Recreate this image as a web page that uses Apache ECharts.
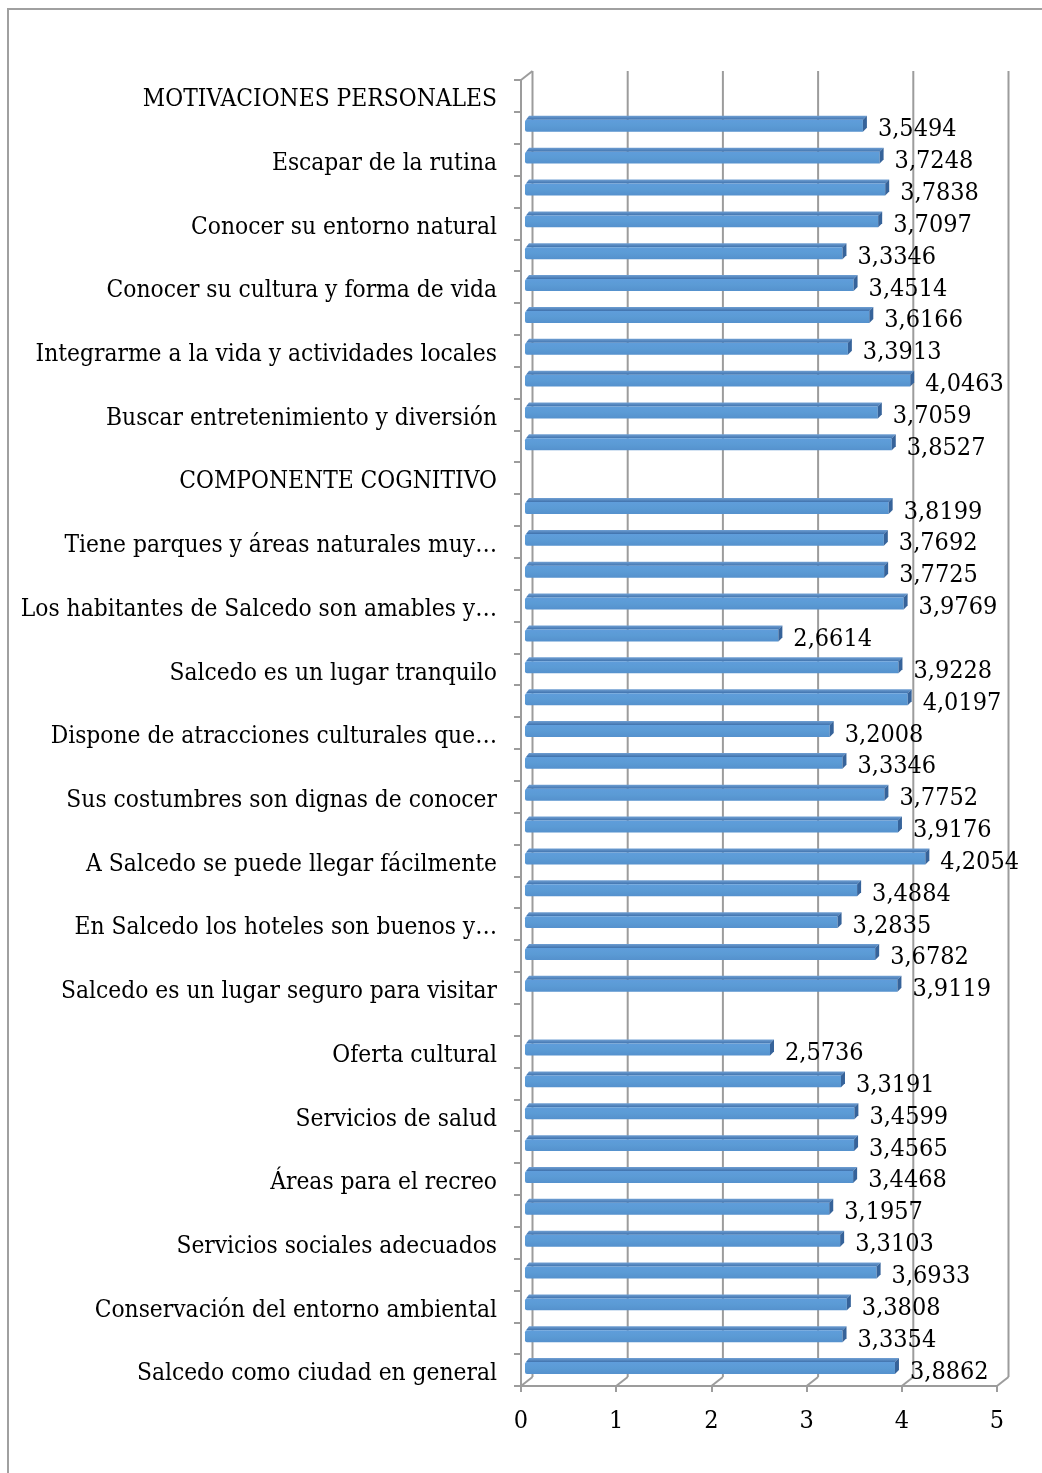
<!DOCTYPE html>
<html>
<head>
<meta charset="utf-8">
<script src="https://cdn.jsdelivr.net/npm/echarts@6/dist/echarts.min.js"></script>
<style>
  html, body { margin: 0; padding: 0; background: #fff; }
  #chart { width: 1042px; height: 1473px; }
</style>
</head>
<body>
<div id="chart"></div>
<script>
// Category rows, top to bottom (unlabeled rows are real items whose names the axis skips)
const categories = [
  'MOTIVACIONES PERSONALES', '', 'Escapar de la rutina', '', 'Conocer su entorno natural', '',
  'Conocer su cultura y forma de vida', '', 'Integrarme a la vida y actividades locales', '',
  'Buscar entretenimiento y diversión', '', 'COMPONENTE COGNITIVO', '',
  'Tiene parques y áreas naturales muy…', '', 'Los habitantes de Salcedo son amables y…', '',
  'Salcedo es un lugar tranquilo', '', 'Dispone de atracciones culturales que…', '',
  'Sus costumbres son dignas de conocer', '', 'A Salcedo se puede llegar fácilmente', '',
  'En Salcedo los hoteles son buenos y…', '', 'Salcedo es un lugar seguro para visitar', '',
  'Oferta cultural', '', 'Servicios de salud', '', 'Áreas para el recreo', '',
  'Servicios sociales adecuados', '', 'Conservación del entorno ambiental', '',
  'Salcedo como ciudad en general'
];

// Mean score per row (null = heading / spacer row without a bar)
const scores = [
  null, 3.5494, 3.7248, 3.7838, 3.7097, 3.3346, 3.4514, 3.6166, 3.3913, 4.0463,
  3.7059, 3.8527, null, 3.8199, 3.7692, 3.7725, 3.9769, 2.6614, 3.9228, 4.0197,
  3.2008, 3.3346, 3.7752, 3.9176, 4.2054, 3.4884, 3.2835, 3.6782, 3.9119, null,
  2.5736, 3.3191, 3.4599, 3.4565, 3.4468, 3.1957, 3.3103, 3.6933, 3.3808, 3.3354,
  3.8862
];

// Value axis ticks
const xTicks = [0, 1, 2, 3, 4, 5];

const FONT = "'DejaVu Serif Condensed', 'DejaVu Serif', serif";
const FS_CAT = 24.3;
const FS_VAL = 25;
const GRAY = '#9c9c9c';
// Depth of the 3-D box (back wall offset)
const DX = 11.5, DY = -9;

const barData = [];
scores.forEach((v, i) => { if (v !== null) barData.push([v, i]); });

const chart = echarts.init(document.getElementById('chart'), null, { renderer: 'canvas' });

chart.setOption({
  animation: false,
  backgroundColor: '#fff',
  graphic: [{
    type: 'rect',
    shape: { x: 8, y: 9, width: 2000, height: 2000 },
    style: { fill: 'none', stroke: '#a0a0a0', lineWidth: 2 },
    silent: true
  }],
  grid: { left: 521, right: 45, top: 80, bottom: 87, containLabel: false },
  xAxis: {
    type: 'value', min: 0, max: 5, interval: 1,
    axisLine: { show: true, lineStyle: { color: GRAY, width: 2 } },
    axisTick: { show: true, length: 6, lineStyle: { color: GRAY, width: 2 } },
    splitLine: { show: false },
    axisLabel: { color: '#000', fontFamily: FONT, fontSize: FS_VAL, margin: 23 }
  },
  yAxis: {
    type: 'category', inverse: true, data: categories,
    axisLine: { show: true, lineStyle: { color: GRAY, width: 2 } },
    axisTick: { show: true, length: 7, lineStyle: { color: GRAY, width: 2 } },
    splitLine: { show: false },
    axisLabel: {
      interval: 0, color: '#000', fontFamily: FONT, fontSize: FS_CAT, margin: 24,
      // a short line box anchored at its top puts the text slightly below the band centre
      verticalAlign: 'top', lineHeight: 8
    }
  },
  series: [
    {
      // back wall gridlines, floor edges and left wall top
      type: 'custom',
      z: 1,
      silent: true,
      data: xTicks.map(v => [v, 0]),
      encode: { x: 0, y: 1 },
      renderItem(params, api) {
        const cs = params.coordSys;
        const top = cs.y, bottom = cs.y + cs.height;
        const x = api.coord([api.value(0), 0])[0];
        const ls = { stroke: GRAY, lineWidth: 2 };
        const children = [
          { type: 'line', shape: { x1: x + DX, y1: top + DY, x2: x + DX, y2: bottom + DY }, style: ls },
          { type: 'line', shape: { x1: x, y1: bottom, x2: x + DX, y2: bottom + DY }, style: ls }
        ];
        if (api.value(0) === 0) {
          children.push({ type: 'line', shape: { x1: x, y1: top, x2: x + DX, y2: top + DY }, style: ls });
        }
        return { type: 'group', children };
      }
    },
    {
      // 3-D bars with value labels
      type: 'custom',
      z: 3,
      data: barData,
      encode: { x: 0, y: 1 },
      renderItem(params, api) {
        const v = api.value(0), i = api.value(1);
        const p0 = api.coord([0, i]);
        const p1 = api.coord([v, i]);
        const band = api.size([0, 1])[1];
        const cy = p0[1];
        const ox = 4, d = 4;
        const x0 = p0[0] + ox, x1 = p1[0] + ox;
        const yt = cy - band * 0.25, yb = cy + band * 0.125;
        const label = v.toFixed(4).replace('.', ',');
        return {
          type: 'group',
          children: [
            {
              type: 'polygon',
              shape: { points: [[x0 + 1, yt], [x0 + d, yt - d], [x1 + d, yt - d], [x1, yt]] },
              style: {
                fill: new echarts.graphic.LinearGradient(0, 0, 0, 1, [
                  { offset: 0, color: '#6f9fd3' }, { offset: 1, color: '#3f72ad' }
                ])
              }
            },
            {
              type: 'rect',
              shape: { x: x0, y: yt, width: x1 - x0, height: yb - yt, r: [2, 0, 0, 2] },
              style: {
                fill: new echarts.graphic.LinearGradient(0, 0, 0, 1, [
                  { offset: 0, color: '#5f9ddb' }, { offset: 0.5, color: '#5b9bd5' }, { offset: 1, color: '#5591cd' }
                ])
              }
            },
            {
              type: 'polygon',
              shape: { points: [[x1, yt], [x1 + d, yt - d], [x1 + d, yb - d], [x1, yb]] },
              style: { fill: '#36639a' }
            },
            {
              type: 'text',
              style: {
                text: label, x: x1 + d + 11, y: cy + 2,
                verticalAlign: 'middle', align: 'left',
                fill: '#000', font: FS_VAL + 'px ' + FONT
              }
            }
          ]
        };
      }
    }
  ]
});
</script>
</body>
</html>
